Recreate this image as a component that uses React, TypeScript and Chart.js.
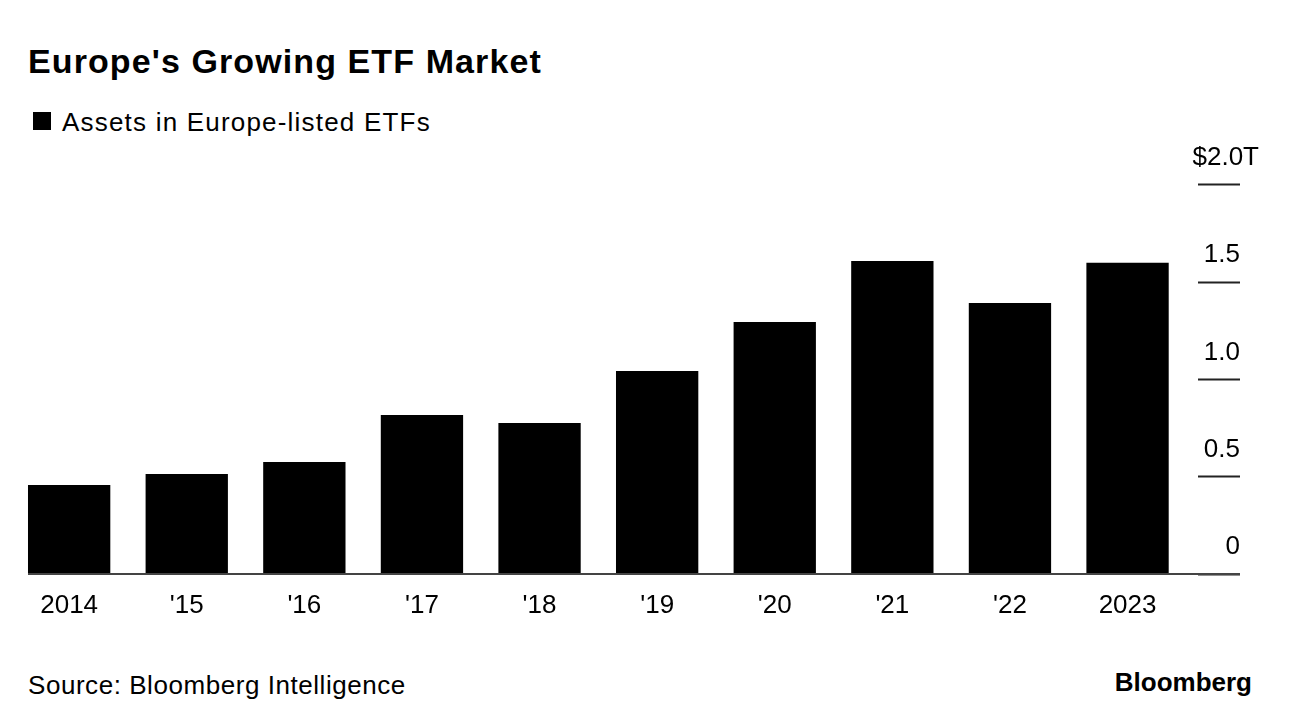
import React, { useEffect, useRef } from "react";
import { Chart, registerables } from "chart.js";

Chart.register(...registerables);

const title = "Europe's Growing ETF Market";
const legendLabel = "Assets in Europe-listed ETFs";
const sourceText = "Source: Bloomberg Intelligence";
const brandText = "Bloomberg";

const categories = ["2014", "'15", "'16", "'17", "'18", "'19", "'20", "'21", "'22", "2023"];
const assets = [0.457, 0.514, 0.575, 0.817, 0.776, 1.043, 1.295, 1.608, 1.392, 1.599];
const yTickValues = [0, 0.5, 1.0, 1.5, 2.0];
const yTickLabels = ["0", "0.5", "1.0", "1.5", "$2.0T"];

const FONT = '"Liberation Sans", Arial, Helvetica, sans-serif';

const baselinePlugin = {
  id: "baseline",
  afterDatasetsDraw(chart: any) {
    const meta = chart.getDatasetMeta(0);
    const first = meta.data[0];
    if (!first) return;
    const yScale = chart.scales.y;
    const y = yScale.getPixelForValue(0);
    const left = first.x - first.width / 2;
    const right = yScale.right;
    const ctx = chart.ctx;
    ctx.save();
    ctx.strokeStyle = "#444444";
    ctx.lineWidth = 2;
    ctx.beginPath();
    ctx.moveTo(left, y);
    ctx.lineTo(right, y);
    ctx.stroke();
    ctx.restore();
  },
};

export default function App() {
  const canvasRef = useRef<HTMLCanvasElement>(null);

  useEffect(() => {
    if (!canvasRef.current) return;
    const chart = new Chart(canvasRef.current, {
      type: "bar",
      data: {
        labels: categories,
        datasets: [
          {
            label: legendLabel,
            data: assets,
            backgroundColor: "#000000",
            borderWidth: 0,
            categoryPercentage: 1,
            barPercentage: 0.7,
          },
        ],
      },
      plugins: [baselinePlugin],
      options: {
        animation: false,
        responsive: true,
        maintainAspectRatio: false,
        layout: { padding: { left: 10.35, right: 52, top: 44.7, bottom: 0 } },
        plugins: {
          legend: { display: false },
          tooltip: { enabled: false },
          title: { display: false },
        },
        scales: {
          x: {
            grid: { display: false, drawTicks: false },
            border: { display: false },
            ticks: {
              color: "#000000",
              font: { family: FONT, size: 26 },
              padding: 16,
              maxRotation: 0,
              autoSkip: false,
            },
            afterFit(scale: any) {
              scale.height = 66;
            },
          },
          y: {
            position: "right",
            min: 0,
            max: 2,
            afterBuildTicks(scale: any) {
              scale.ticks = yTickValues.map((v) => ({ value: v }));
            },
            afterFit(scale: any) {
              scale.width = 53.65;
              // let labels extend beyond the narrow axis box
              scale._computeLabelArea = () => undefined;
              if (!scale.__shiftPatched) {
                const orig = scale._computeLabelItems.bind(scale);
                scale._computeLabelItems = (area: any) => {
                  const items = orig(area);
                  const top = yTickLabels[yTickLabels.length - 1];
                  items.forEach((it: any) => {
                    if (it.label === top && it.options && it.options.translation) {
                      it.options.translation = [it.options.translation[0] + 19, it.options.translation[1]];
                    }
                  });
                  return items;
                };
                scale.__shiftPatched = true;
              }
            },
            border: { display: false },
            grid: {
              drawOnChartArea: false,
              drawTicks: true,
              tickLength: 54,
              tickWidth: 2,
              tickColor: "#222222",
              tickBorderDash: [0, 12, 42, 1000],
            },
            ticks: {
              color: "#000000",
              font: { family: FONT, size: 26 },
              padding: 0,
              crossAlign: "far",
              labelOffset: -27,
              callback: (value: any) => {
                const i = yTickValues.indexOf(Number(value));
                return i >= 0 ? yTickLabels[i] : "";
              },
            },
          },
        },
      } as any,
    });
    return () => chart.destroy();
  }, []);

  return (
    <div
      style={{
        position: "fixed",
        left: 0,
        top: 0,
        width: 1292,
        height: 726,
        background: "#ffffff",
        fontFamily: FONT,
        color: "#000000",
        overflow: "hidden",
      }}
    >
      <div
        style={{
          position: "absolute",
          left: 28,
          top: 44,
          fontSize: 34,
          lineHeight: "34px",
          fontWeight: 700,
          letterSpacing: 1.1,
          whiteSpace: "nowrap",
        }}
      >
        {title}
      </div>
      <div
        style={{
          position: "absolute",
          left: 33,
          top: 112,
          width: 18,
          height: 18,
          background: "#000000",
        }}
      />
      <div
        style={{
          position: "absolute",
          left: 62,
          top: 109,
          fontSize: 26,
          lineHeight: "26px",
          letterSpacing: 1.2,
          whiteSpace: "nowrap",
        }}
      >
        {legendLabel}
      </div>
      <div style={{ position: "absolute", left: 0, top: 140, width: 1292, height: 500 }}>
        <canvas ref={canvasRef} />
      </div>
      <div
        style={{
          position: "absolute",
          left: 28,
          top: 672,
          fontSize: 26,
          lineHeight: "26px",
          letterSpacing: 0.55,
          whiteSpace: "nowrap",
        }}
      >
        {sourceText}
      </div>
      <div
        style={{
          position: "absolute",
          right: 40,
          top: 669,
          fontSize: 26,
          lineHeight: "26px",
          fontWeight: 700,
          letterSpacing: 0,
          whiteSpace: "nowrap",
        }}
      >
        {brandText}
      </div>
    </div>
  );
}
